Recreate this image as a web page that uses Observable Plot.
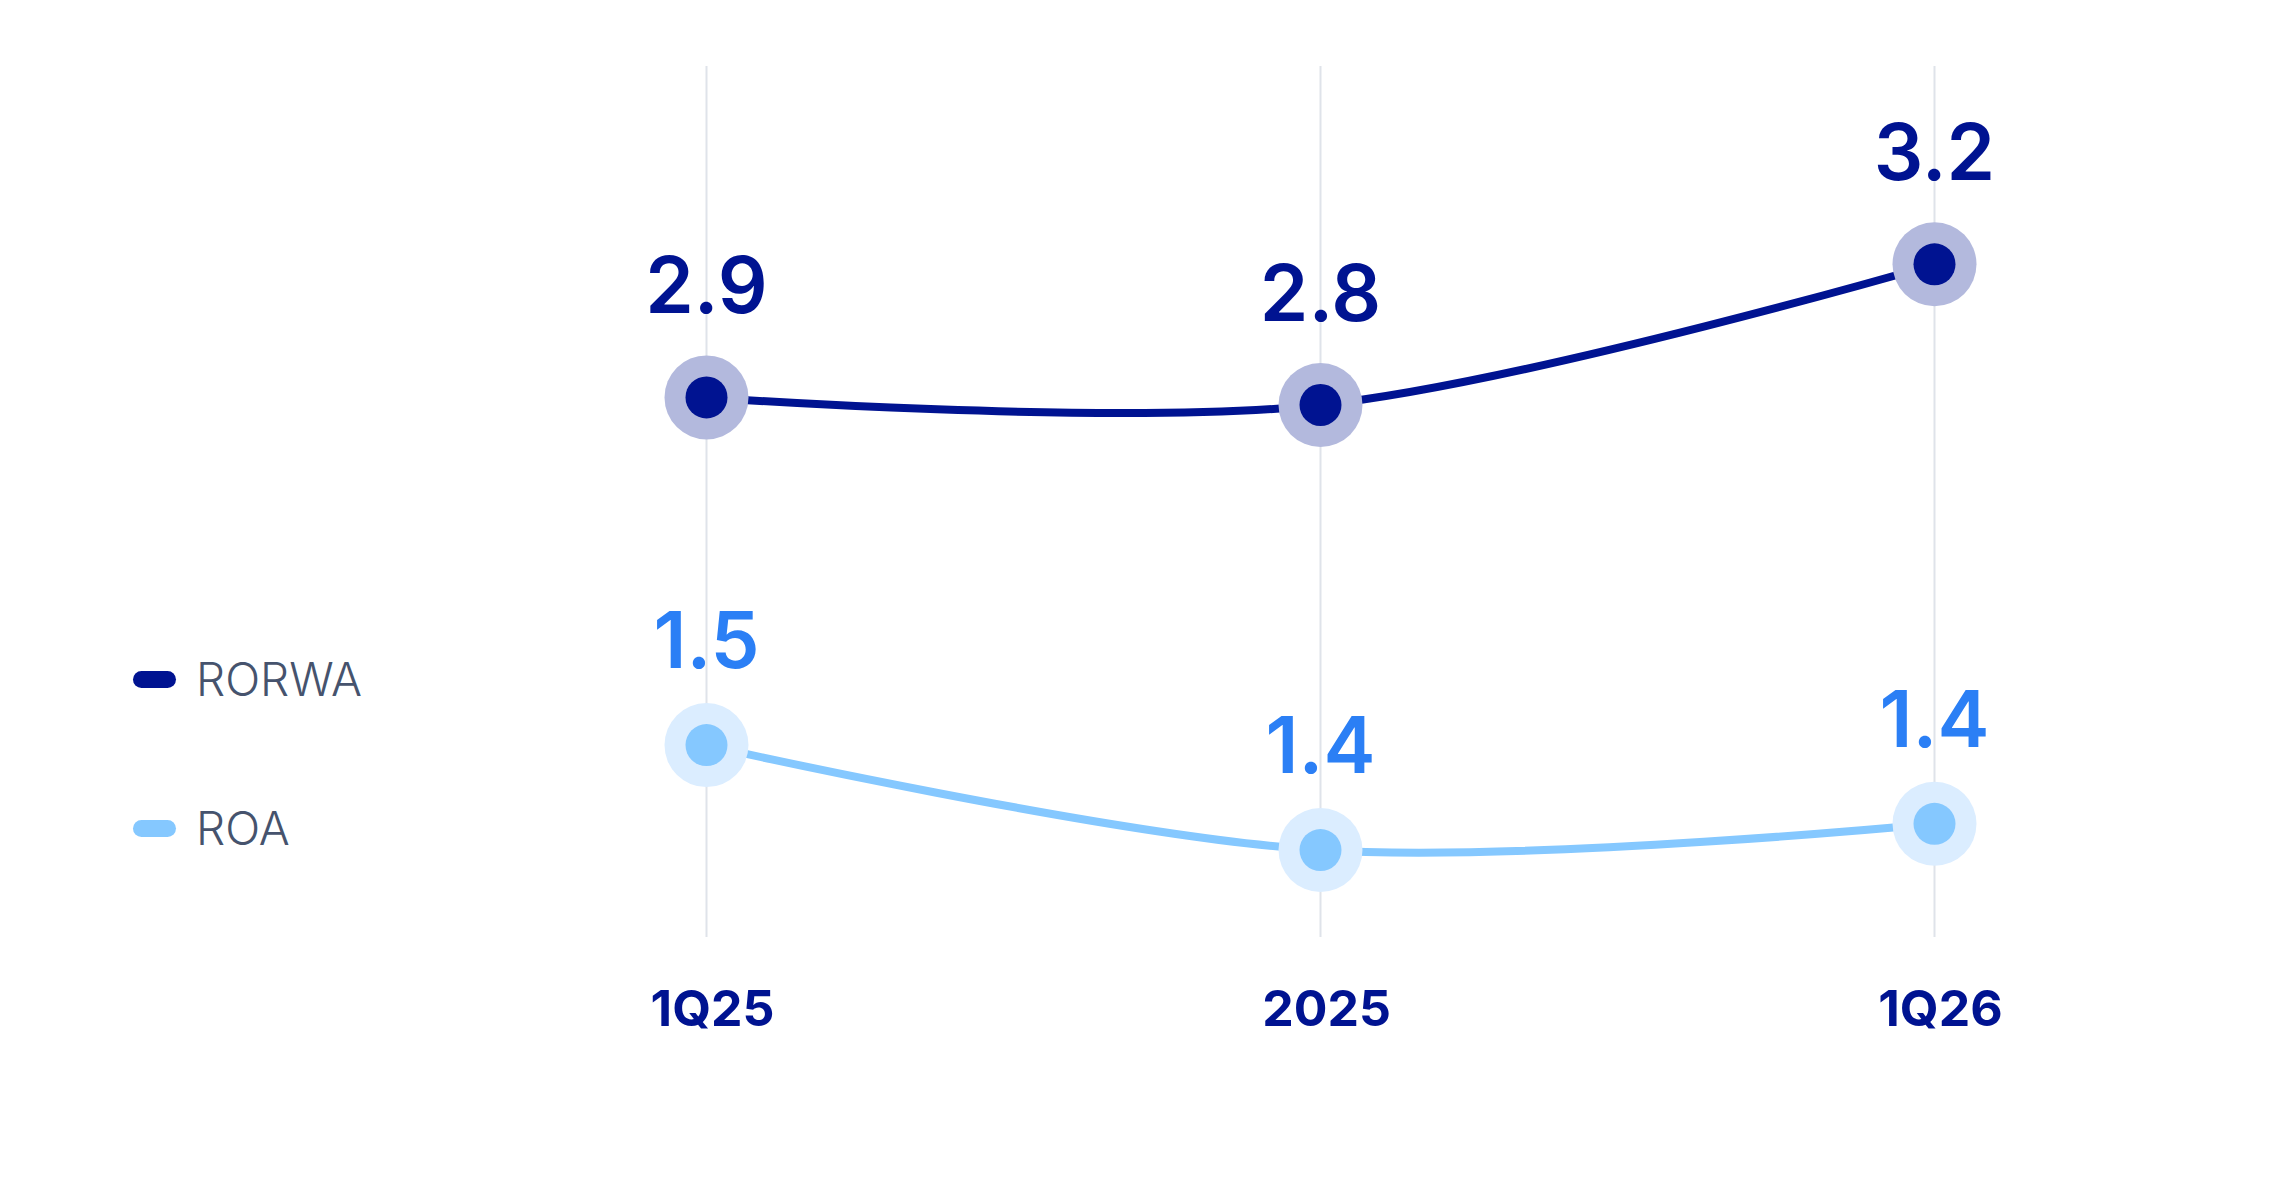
<!DOCTYPE html>
<html>
<head>
<meta charset="utf-8">
<script src="https://cdn.jsdelivr.net/npm/d3@7"></script>
<script src="https://cdn.jsdelivr.net/npm/@observablehq/plot@0.6"></script>
<style>
  html, body { margin: 0; padding: 0; background: #ffffff; }
  #wrap { position: relative; width: 2292px; height: 1188px; overflow: hidden; }
  #wrap svg { position: absolute; left: 0; top: 0; }
  .legend { position: absolute; left: 133px; font-family: Inter, "Noto Sans", sans-serif; font-weight: 300; font-size: 46px; color: #46536d; display: flex; align-items: center; }
  .legend .sw { width: 43px; height: 17px; border-radius: 9px; margin-right: 20px; }
</style>
</head>
<body>
<div id="wrap"></div>
<script>
// ---- data ----
const periods = ["1Q25", "2025", "1Q26"];
const rorwaValues = [2.86, 2.84, 3.21];   // estimated; labels show 1 decimal
const roaValues = [1.48, 1.36, 1.39];
const seriesNames = ["RORWA", "ROA"];
const seriesColors = ["#001391", "#85c8ff"];
const haloColors = ["#b3b9dd", "#dbedff"];
const labelColors = ["#001391", "#2b7ff5"];

const rorwa = periods.map((p, i) => ({period: p, value: rorwaValues[i]}));
const roa = periods.map((p, i) => ({period: p, value: roaValues[i]}));

const W = 2292, H = 1188;
const common = {
  width: W, height: H,
  marginLeft: 705, marginRight: 358, marginTop: 66, marginBottom: 251,
  x: {domain: periods, type: "point", padding: 0},
  style: {background: "transparent", fontFamily: "Inter, 'Noto Sans', sans-serif", overflow: "visible"}
};

function seriesMarks(data, idx, labelDy) {
  return [
    Plot.line(data, {x: "period", y: "value", stroke: seriesColors[idx], strokeWidth: 8, curve: "catmull-rom"}),
    Plot.dot(data, {x: "period", y: "value", r: 42, fill: haloColors[idx], stroke: null}),
    Plot.dot(data, {x: "period", y: "value", r: 21, fill: seriesColors[idx], stroke: null}),
    Plot.text(data, {x: "period", y: "value", text: d => d.value.toFixed(1), fill: labelColors[idx],
      fontSize: 78, fontWeight: 600, dy: labelDy, lineAnchor: "middle"})
  ];
}

const base = Plot.plot({
  ...common,
  y: {domain: [1.44, 3.73], axis: null},
  marks: [
    Plot.ruleX(periods, {stroke: "#dfe3ea", strokeWidth: 2}),
    Plot.axisX({tickSize: 0, tickPadding: 53, fontSize: 50, fontWeight: 700, fill: "#001391", dx: 6, label: null}),
    ...seriesMarks(rorwa, 0, -109)
  ]
});

const overlay = Plot.plot({
  ...common,
  y: {domain: [1.26, 2.256], axis: null},
  x: {domain: periods, type: "point", padding: 0, axis: null},
  marks: seriesMarks(roa, 1, -102)
});

const wrap = document.getElementById("wrap");
wrap.appendChild(base);
wrap.appendChild(overlay);

// legend
const legendTops = [679, 828];
seriesNames.forEach((name, i) => {
  const div = document.createElement("div");
  div.className = "legend";
  div.style.top = (legendTops[i] - 30) + "px";
  div.style.height = "60px";
  const sw = document.createElement("span");
  sw.className = "sw";
  sw.style.background = seriesColors[i];
  const tx = document.createElement("span");
  tx.textContent = name;
  div.appendChild(sw);
  div.appendChild(tx);
  wrap.appendChild(div);
});
</script>
</body>
</html>
